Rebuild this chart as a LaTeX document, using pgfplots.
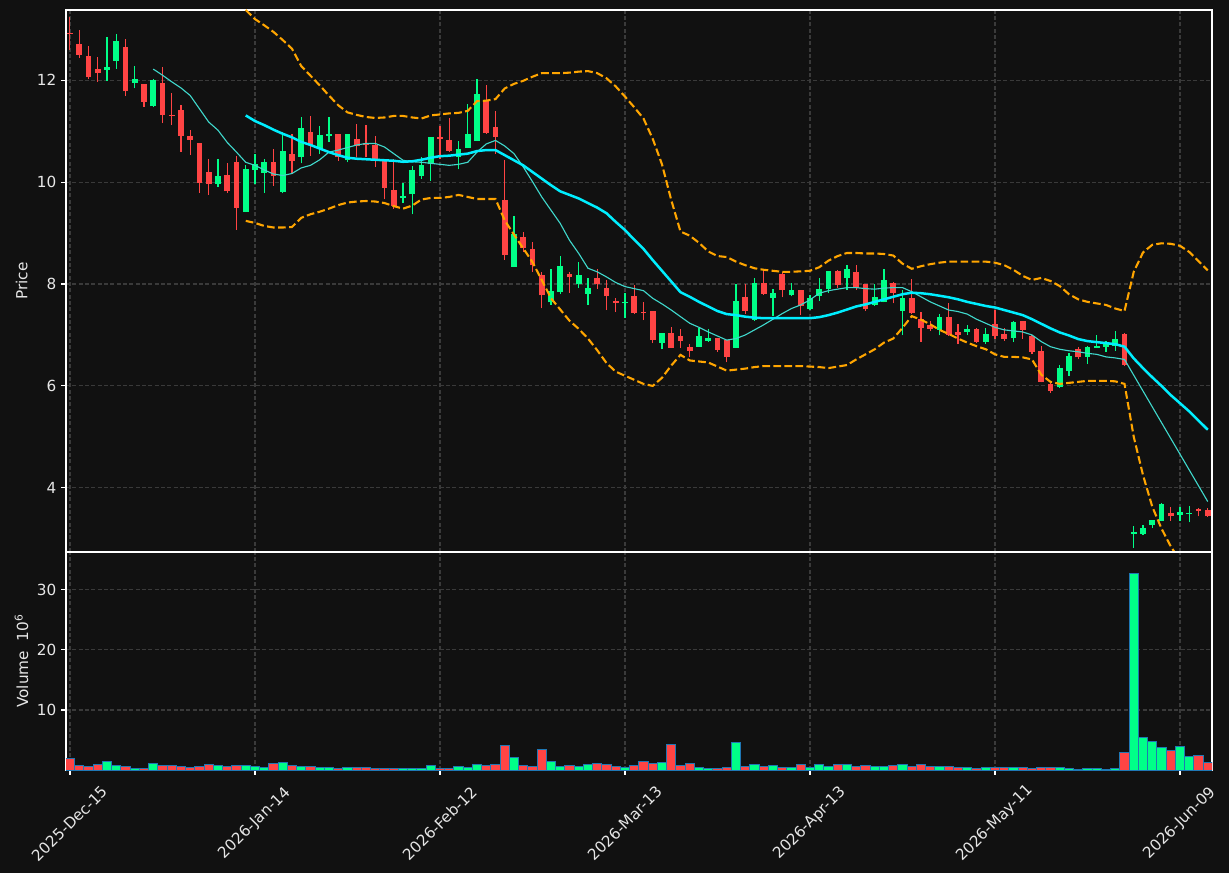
\documentclass[border=0pt]{standalone}
\usepackage{pgfplots}
\pgfplotsset{compat=1.18}
\usepackage{pgfplotstable}
\usepackage{fontspec}
\setmainfont{DejaVu Sans}
\definecolor{bg}{HTML}{111111}
\definecolor{upc}{HTML}{00FF88}
\definecolor{dnc}{HTML}{FF4444}
\definecolor{edgec}{HTML}{1F77B4}
\definecolor{gridc}{HTML}{3A3A3A}
\definecolor{txt}{HTML}{E6E6E6}
\definecolor{smaA}{HTML}{40D8CC}
\definecolor{smaB}{HTML}{00EEFF}
\definecolor{band}{HTML}{FFA500}

\pgfplotstableread{
i o h l c v
0 12.93 13.24 12.59 12.91 1.94
1 12.72 12.99 12.44 12.50 0.78
2 12.47 12.67 12.02 12.06 0.56
3 12.22 12.46 11.97 12.14 0.94
4 12.20 12.84 11.99 12.27 1.44
5 12.38 12.90 12.23 12.78 0.78
6 12.65 12.82 11.69 11.78 0.61
7 11.95 12.29 11.84 12.02 0.22
8 11.92 11.93 11.48 11.57 0.22
9 11.49 12.03 11.48 12.00 1.11
10 11.94 12.27 11.16 11.32 0.78
11 11.32 11.76 11.13 11.30 0.78
12 11.41 11.52 10.59 10.91 0.61
13 10.91 11.02 10.54 10.83 0.44
14 10.76 10.77 9.79 9.99 0.61
15 10.20 10.45 9.75 9.97 0.94
16 9.97 10.46 9.91 10.12 0.78
17 10.14 10.37 9.79 9.82 0.61
18 10.39 10.51 9.07 9.50 0.78
19 9.42 10.33 9.41 10.25 0.78
20 10.24 10.55 9.96 10.35 0.61
21 10.18 10.46 9.79 10.40 0.44
22 10.40 10.66 9.93 10.12 1.11
23 9.81 10.99 9.78 10.61 1.28
24 10.55 10.94 10.17 10.41 0.78
25 10.50 11.27 10.37 11.06 0.61
26 10.98 11.29 10.52 10.73 0.61
27 10.65 11.11 10.56 10.92 0.44
28 10.91 11.27 10.79 10.95 0.44
29 10.94 10.95 10.42 10.49 0.22
30 10.43 10.95 10.39 10.94 0.44
31 10.84 11.14 10.50 10.71 0.44
32 10.76 11.12 10.50 10.72 0.44
33 10.73 10.90 10.30 10.46 0.22
34 10.42 10.46 9.66 9.89 0.22
35 9.84 10.46 9.48 9.54 0.22
36 9.69 9.99 9.59 9.72 0.22
37 9.76 10.31 9.37 10.24 0.22
38 10.12 10.50 10.07 10.33 0.22
39 10.35 10.89 10.03 10.88 0.78
40 10.88 11.10 10.46 10.85 0.22
41 10.82 11.25 10.59 10.61 0.22
42 10.50 10.81 10.25 10.66 0.61
43 10.67 11.54 10.67 10.94 0.44
44 10.81 12.03 10.81 11.73 0.94
45 11.59 11.90 10.95 10.97 0.78
46 11.08 11.39 10.56 10.89 0.94
47 9.65 10.43 8.48 8.57 4.11
48 8.34 9.33 8.33 8.98 2.11
49 8.93 9.03 8.63 8.71 0.78
50 8.69 8.83 8.24 8.37 0.61
51 8.18 8.24 7.52 7.78 3.44
52 7.64 8.29 7.59 7.86 1.44
53 7.85 8.55 7.80 8.35 0.61
54 8.20 8.24 7.83 8.13 0.78
55 8.01 8.43 7.93 8.18 0.61
56 7.80 8.11 7.59 7.93 0.94
57 8.12 8.29 7.90 8.00 1.11
58 7.93 8.07 7.49 7.76 0.94
59 7.67 7.72 7.45 7.63 0.61
60 7.62 7.82 7.33 7.65 0.44
61 7.76 7.98 7.41 7.43 0.78
62 7.45 7.65 7.29 7.43 1.44
63 7.47 7.48 6.84 6.90 1.11
64 6.85 7.04 6.72 7.03 1.28
65 7.03 7.15 6.74 6.75 4.28
66 6.98 7.11 6.74 6.89 0.78
67 6.77 6.82 6.56 6.69 1.11
68 6.77 7.13 6.76 6.98 0.44
69 6.89 7.11 6.87 6.94 0.22
70 6.94 6.95 6.67 6.71 0.22
71 6.90 6.91 6.46 6.57 0.44
72 6.75 8.00 6.74 7.67 4.61
73 7.74 8.00 7.42 7.47 0.61
74 7.29 8.11 7.28 8.03 0.94
75 8.03 8.29 7.79 7.80 0.61
76 7.73 7.90 7.37 7.82 0.78
77 8.20 8.24 7.74 7.88 0.44
78 7.78 8.03 7.76 7.88 0.44
79 7.88 7.89 7.39 7.57 0.94
80 7.51 7.78 7.50 7.72 0.44
81 7.76 8.11 7.67 7.90 0.94
82 7.90 8.26 7.83 8.25 0.61
83 8.25 8.27 7.93 7.98 0.94
84 8.12 8.37 7.89 8.29 0.94
85 8.24 8.37 7.89 7.93 0.61
86 8.00 8.01 7.48 7.51 0.78
87 7.58 8.01 7.57 7.74 0.61
88 7.65 8.29 7.64 8.08 0.61
89 8.03 8.04 7.62 7.83 0.78
90 7.47 7.88 6.99 7.73 0.94
91 7.73 8.09 7.41 7.44 0.61
92 7.31 7.45 6.87 7.14 0.94
93 7.20 7.28 7.08 7.12 0.61
94 7.10 7.41 6.99 7.35 0.61
95 7.35 7.62 6.98 7.00 0.61
96 7.06 7.22 6.82 7.00 0.44
97 7.05 7.20 7.00 7.12 0.44
98 7.12 7.13 6.85 6.87 0.22
99 6.87 7.13 6.82 7.01 0.44
100 7.22 7.50 6.93 6.98 0.44
101 7.02 7.13 6.89 6.93 0.44
102 6.95 7.27 6.86 7.25 0.44
103 7.27 7.28 6.92 7.10 0.44
104 6.98 6.99 6.63 6.67 0.22
105 6.68 6.79 6.07 6.08 0.44
106 6.04 6.05 5.87 5.90 0.44
107 5.97 6.41 5.96 6.35 0.44
108 6.29 6.64 6.20 6.59 0.22
109 6.73 6.76 6.52 6.56 0.10
110 6.57 6.78 6.44 6.76 0.22
111 6.75 7.00 6.74 6.78 0.22
112 6.77 6.89 6.67 6.82 0.10
113 6.79 7.08 6.69 6.92 0.22
114 7.02 7.03 6.39 6.41 2.94
115 3.10 3.25 2.82 3.14 32.8
116 3.10 3.27 3.08 3.22 5.44
117 3.27 3.37 3.21 3.37 4.78
118 3.35 3.71 3.34 3.69 3.78
119 3.51 3.62 3.35 3.44 3.28
120 3.47 3.62 3.35 3.53 3.94
121 3.49 3.65 3.32 3.51 2.28
122 3.58 3.60 3.44 3.54 2.44
123 3.57 3.60 3.43 3.44 1.28
}\candles

\pgfplotstableread{
x y
9 12.22
10 12.10
11 11.97
12 11.85
13 11.70
14 11.44
15 11.18
16 11.02
17 10.78
18 10.59
19 10.39
20 10.33
21 10.24
22 10.16
23 10.13
24 10.17
25 10.28
26 10.33
27 10.44
28 10.59
29 10.63
30 10.68
31 10.73
32 10.76
33 10.76
34 10.69
35 10.56
36 10.43
37 10.40
38 10.39
39 10.37
40 10.35
41 10.33
42 10.35
43 10.39
44 10.59
45 10.75
46 10.82
47 10.71
48 10.56
49 10.30
50 10.01
51 9.71
52 9.45
53 9.19
54 8.86
55 8.60
56 8.31
57 8.24
58 8.14
59 8.03
60 7.95
61 7.91
62 7.87
63 7.72
64 7.61
65 7.49
66 7.36
67 7.23
68 7.15
69 7.06
70 6.98
71 6.90
72 6.93
73 7.00
74 7.10
75 7.20
76 7.31
77 7.42
78 7.52
79 7.59
80 7.69
81 7.82
82 7.87
83 7.90
84 7.93
85 7.93
86 7.91
87 7.90
88 7.92
89 7.93
90 7.93
91 7.85
92 7.75
93 7.65
94 7.57
95 7.49
96 7.46
97 7.41
98 7.31
99 7.23
100 7.15
101 7.10
102 7.08
103 7.06
104 7.00
105 6.87
106 6.77
107 6.72
108 6.69
109 6.67
110 6.64
111 6.62
112 6.57
113 6.55
114 6.52
115 6.21
116 5.90
117 5.59
118 5.28
119 4.97
120 4.66
121 4.35
122 4.04
123 3.73
}\smaten

\pgfplotstableread{
x y
19 11.31
20 11.20
21 11.12
22 11.03
23 10.95
24 10.88
25 10.79
26 10.73
27 10.66
28 10.59
29 10.53
30 10.48
31 10.46
32 10.45
33 10.44
34 10.43
35 10.42
36 10.40
37 10.41
38 10.44
39 10.48
40 10.51
41 10.52
42 10.54
43 10.56
44 10.61
45 10.63
46 10.63
47 10.53
48 10.43
49 10.33
50 10.20
51 10.07
52 9.94
53 9.82
54 9.75
55 9.68
56 9.59
57 9.50
58 9.39
59 9.22
60 9.06
61 8.87
62 8.69
63 8.47
64 8.26
65 8.05
66 7.84
67 7.75
68 7.65
69 7.56
70 7.47
71 7.41
72 7.39
73 7.36
74 7.34
75 7.33
76 7.33
77 7.33
78 7.33
79 7.33
80 7.33
81 7.35
82 7.39
83 7.44
84 7.50
85 7.56
86 7.60
87 7.65
88 7.70
89 7.75
90 7.80
91 7.83
92 7.82
93 7.80
94 7.77
95 7.74
96 7.70
97 7.65
98 7.61
99 7.57
100 7.54
101 7.49
102 7.44
103 7.39
104 7.31
105 7.22
106 7.13
107 7.05
108 6.99
109 6.92
110 6.88
111 6.86
112 6.84
113 6.82
114 6.77
115 6.54
116 6.35
117 6.17
118 6.00
119 5.82
120 5.66
121 5.50
122 5.32
123 5.14
}\smatwenty

\pgfplotstableread{
x y
19 13.38
20 13.20
21 13.08
22 12.95
23 12.79
24 12.62
25 12.28
26 12.09
27 11.90
28 11.70
29 11.51
30 11.37
31 11.32
32 11.28
33 11.26
34 11.27
35 11.30
36 11.30
37 11.27
38 11.25
39 11.31
40 11.33
41 11.35
42 11.36
43 11.40
44 11.59
45 11.60
46 11.63
47 11.84
48 11.93
49 11.99
50 12.07
51 12.14
52 12.14
53 12.14
54 12.15
55 12.17
56 12.18
57 12.14
58 12.04
59 11.88
60 11.68
61 11.47
62 11.25
63 10.85
64 10.35
65 9.65
66 9.03
67 8.95
68 8.81
69 8.64
70 8.55
71 8.53
72 8.44
73 8.37
74 8.31
75 8.28
76 8.26
77 8.24
78 8.24
79 8.25
80 8.26
81 8.33
82 8.46
83 8.55
84 8.61
85 8.61
86 8.60
87 8.60
88 8.59
89 8.56
90 8.40
91 8.30
92 8.35
93 8.39
94 8.42
95 8.44
96 8.44
97 8.44
98 8.44
99 8.44
100 8.42
101 8.37
102 8.28
103 8.16
104 8.08
105 8.12
106 8.06
107 7.96
108 7.80
109 7.70
110 7.65
111 7.62
112 7.59
113 7.52
114 7.47
115 8.24
116 8.62
117 8.77
118 8.80
119 8.79
120 8.75
121 8.63
122 8.45
123 8.27
}\bandhi

\pgfplotstableread{
x y
19 9.24
20 9.20
21 9.14
22 9.11
23 9.11
24 9.12
25 9.30
26 9.37
27 9.42
28 9.48
29 9.55
30 9.60
31 9.62
32 9.63
33 9.62
34 9.59
35 9.53
36 9.48
37 9.54
38 9.66
39 9.69
40 9.69
41 9.71
42 9.75
43 9.71
44 9.67
45 9.67
46 9.67
47 9.25
48 8.97
49 8.70
50 8.43
51 8.08
52 7.72
53 7.50
54 7.28
55 7.12
56 6.93
57 6.70
58 6.45
59 6.28
60 6.20
61 6.12
62 6.04
63 6.00
64 6.16
65 6.40
66 6.61
67 6.50
68 6.48
69 6.46
70 6.38
71 6.30
72 6.32
73 6.34
74 6.37
75 6.39
76 6.39
77 6.39
78 6.39
79 6.39
80 6.38
81 6.37
82 6.35
83 6.38
84 6.41
85 6.52
86 6.62
87 6.72
88 6.85
89 6.93
90 7.14
91 7.37
92 7.30
93 7.21
94 7.10
95 7.02
96 6.93
97 6.85
98 6.78
99 6.72
100 6.62
101 6.57
102 6.57
103 6.56
104 6.52
105 6.22
106 6.08
107 6.04
108 6.06
109 6.08
110 6.10
111 6.10
112 6.10
113 6.09
114 6.04
115 5.00
116 4.25
117 3.63
118 3.20
119 2.85
120 2.57
121 2.38
122 2.19
123 1.99
}\bandlo

\pgfplotsset{
  up/.style={x filter/.expression={\thisrow{c}>=\thisrow{o} ? x : nan}},
  down/.style={x filter/.expression={\thisrow{c}<\thisrow{o} ? x : nan}},
  common/.style={
    scale only axis, width=825.12pt, anchor=south west,
    xmin=-0.43, xmax=123.46, xtick={0,20,...,120},
    grid=major,
    major grid style={gridc, line width=0.8pt, dash pattern=on 2.96pt off 1.6pt},
    axis line style={white, line width=0.8pt},
    tick style={white, line width=0.8pt},
    tick align=outside, major tick length=3.5pt,
    xtick pos=left, ytick pos=left,
    tick label style={font=\fontsize{11}{13}\selectfont, color=txt},
    /pgf/number format/assume math mode=true,
    every axis y label/.style={at={(rel axis cs:0,0.5)}, xshift=-32pt, rotate=90, anchor=center, font=\fontsize{11}{13}\selectfont, color=txt},
  },
}

\begin{document}
\begin{tikzpicture}
\fill[bg] (0,0) rectangle (884.88pt,628.56pt);
\begin{axis}[common, at={(47.52pt,231.12pt)}, height=390.24pt,
  ymin=2.74, ymax=13.38, ytick={4,6,8,10,12},
  xticklabels={}, xtick style={draw=none},
  ylabel={Price}]
\addplot[draw=none, forget plot, up, error bars/.cd, y dir=plus, y explicit, error mark=none, error bar style={draw=upc, solid, line width=0.75pt}]
  table[x=i, y=l, y error expr={\thisrow{h}-\thisrow{l}}] {\candles};
\addplot[draw=none, forget plot, down, error bars/.cd, y dir=plus, y explicit, error mark=none, error bar style={draw=dnc, solid, line width=0.75pt}]
  table[x=i, y=l, y error expr={\thisrow{h}-\thisrow{l}}] {\candles};
\addplot[draw=none, forget plot, up, error bars/.cd, y dir=plus, y explicit, error mark=none, error bar style={draw=upc, solid, line width=4pt}]
  table[x=i, y expr={min(\thisrow{o},\thisrow{c})}, y error expr={max(abs(\thisrow{c}-\thisrow{o}),0.025)}] {\candles};
\addplot[draw=none, forget plot, down, error bars/.cd, y dir=plus, y explicit, error mark=none, error bar style={draw=dnc, solid, line width=4pt}]
  table[x=i, y expr={min(\thisrow{o},\thisrow{c})}, y error expr={max(abs(\thisrow{c}-\thisrow{o}),0.025)}] {\candles};
\addplot[smaA, line width=0.8pt, mark=none] table[x=x, y=y] {\smaten};
\addplot[smaB, line width=1.8pt, mark=none] table[x=x, y=y] {\smatwenty};
\addplot[band, line width=1.5pt, mark=none, dash pattern=on 5.55pt off 2.4pt] table[x=x, y=y] {\bandhi};
\addplot[band, line width=1.5pt, mark=none, dash pattern=on 5.55pt off 2.4pt] table[x=x, y=y] {\bandlo};
\end{axis}
\begin{axis}[common, at={(47.52pt,74.16pt)}, height=156.96pt,
  ymin=0, ymax=36.3, ytick={10,20,30},
  xticklabels={2025-Dec-15,2026-Jan-14,2026-Feb-12,2026-Mar-13,2026-Apr-13,2026-May-11,2026-Jun-09},
  xticklabel style={yshift=-35pt, rotate=45, anchor=center},
  ylabel={Volume\ \ 10\textsuperscript{6}}]
\addplot[ybar, bar width=6.66pt, bar shift=0pt, fill=upc, draw=edgec, line width=0.7pt, up] table[x=i, y=v] {\candles};
\addplot[ybar, bar width=6.66pt, bar shift=0pt, fill=dnc, draw=edgec, line width=0.7pt, down] table[x=i, y=v] {\candles};
\end{axis}
\pgfresetboundingbox
\path (0,0) rectangle (884.88pt,628.56pt);
\end{tikzpicture}
\end{document}
